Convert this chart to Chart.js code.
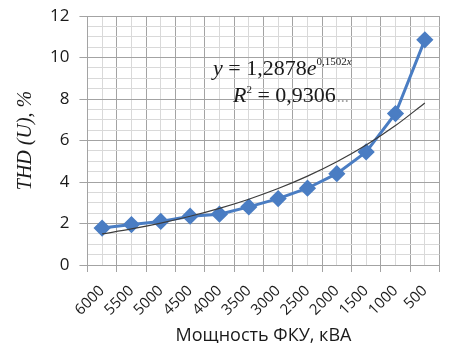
<!DOCTYPE html>
<html>
<head>
<meta charset="utf-8">
<script src="https://cdn.jsdelivr.net/npm/chart.js@4/dist/chart.umd.min.js"></script>
<style>
  html, body { margin: 0; padding: 0; background: #ffffff; }
  #wrap { width: 449px; height: 343px; }
</style>
</head>
<body>
<div id="wrap"><canvas id="c" width="449" height="343"></canvas></div>
<script>
// Compensator power steps, kVA
const categories = ['6000', '5500', '5000', '4500', '4000', '3500', '3000', '2500', '2000', '1500', '1000', '500'];
// Voltage THD, %
const thdValues = [1.78, 1.95, 2.1, 2.35, 2.45, 2.8, 3.2, 3.7, 4.4, 5.45, 7.3, 10.85];
// Labelled y ticks
const yTicks = [0, 2, 4, 6, 8, 10, 12];
// Exponential trend: y = A * e^(B*x), x = category number
const trendA = 1.2878;
const trendB = 0.1502;
const trendLabelA = '1,2878';
const trendLabelB = '0,1502';
const trendR2 = '0,9306';

const mainPoints = thdValues.map((v, i) => ({ x: i + 1, y: v }));
const trendPoints = categories.map((c, i) => ({ x: i + 1, y: trendA * Math.exp(trendB * (i + 1)) }));

const MAJOR = '#a3a3a3';
const MINOR = '#d9d9d9';
const BLUE = '#4a7dc3';
const SANS = '"Open Sans", "Noto Sans", sans-serif';
const SERIF = '"Liberation Serif", "DejaVu Serif", serif';

// Trend equation printed over the grid
const equationPlugin = {
  id: 'equation',
  afterDatasetsDraw(chart) {
    const ctx = chart.ctx;
    ctx.save();
    ctx.fillStyle = '#1a1a1a';
    ctx.textBaseline = 'alphabetic';
    const big = '22px ' + SERIF;
    const bigIt = 'italic 22px ' + SERIF;
    const sup = '11px ' + SERIF;
    const supIt = 'italic 11px ' + SERIF;
    const parts1 = [
      [bigIt, 'y', 0], [big, ' = ' + trendLabelA, 0], [bigIt, 'e', 0],
      [sup, trendLabelB, -10], [supIt, 'x', -10]
    ];
    const parts2 = [
      [bigIt, 'R', 0], [sup, '2', -9], [big, ' = ' + trendR2, 0]
    ];
    const draw = (parts, x, y) => {
      for (const [f, t, dy] of parts) {
        ctx.font = f;
        ctx.fillText(t, x, y + dy);
        x += ctx.measureText(t).width;
      }
      return x;
    };
    draw(parts1, 213, 75);
    const end = draw(parts2, 233, 102);
    ctx.font = '16px ' + SERIF;
    ctx.fillStyle = '#a0a0a0';
    ctx.fillText('...', end + 1, 102);
    ctx.restore();
  }
};

new Chart(document.getElementById('c'), {
  type: 'line',
  data: {
    datasets: [
      {
        data: trendPoints,
        borderColor: '#3d3d3d',
        borderWidth: 1.2,
        pointRadius: 0,
        cubicInterpolationMode: 'monotone',
        fill: false,
        order: 0
      },
      {
        data: mainPoints,
        borderColor: BLUE,
        backgroundColor: BLUE,
        borderWidth: 3,
        pointStyle: 'rectRot',
        pointRadius: 6.5,
        pointBackgroundColor: BLUE,
        pointBorderColor: BLUE,
        tension: 0,
        fill: false,
        order: 1
      }
    ]
  },
  options: {
    responsive: false,
    animation: false,
    layout: { padding: { top: 16, right: 4, left: 14, bottom: 0 } },
    plugins: {
      legend: { display: false },
      tooltip: { enabled: false }
    },
    scales: {
      x: {
        type: 'linear',
        min: 0.5,
        max: 12.5,
        afterFit: (s) => { s.paddingRight = 0; s.height = 78; },
        border: { color: MAJOR, width: 1 },
        grid: {
          color: (c) => (c.tick && c.tick.value % 1 !== 0) ? MAJOR : MINOR,
          tickColor: (c) => (c.tick && c.tick.value % 1 !== 0) ? MAJOR : 'rgba(0,0,0,0)',
          tickLength: 7,
          lineWidth: 1
        },
        ticks: {
          stepSize: 0.5,
          autoSkip: false,
          minRotation: 45,
          maxRotation: 45,
          padding: 10,
          color: '#1a1a1a',
          font: { family: SANS, size: 15 },
          callback: (v) => Number.isInteger(v) ? categories[v - 1] : ''
        },
        title: {
          display: true,
          text: 'Мощность ФКУ, кВА',
          color: '#1a1a1a',
          padding: { top: 0, bottom: -4 },
          font: { family: SANS, size: 18 }
        }
      },
      y: {
        min: 0,
        max: 12,
        afterFit: (s) => { s.paddingTop = 0; s.paddingBottom = 0; },
        border: { color: MAJOR, width: 1 },
        grid: {
          color: (c) => (c.tick && yTicks.includes(c.tick.value)) ? MAJOR : MINOR,
          tickColor: (c) => (c.tick && yTicks.includes(c.tick.value)) ? MAJOR : 'rgba(0,0,0,0)',
          tickLength: 8,
          lineWidth: 1
        },
        ticks: {
          stepSize: 0.5,
          autoSkip: false,
          padding: 10,
          color: '#1a1a1a',
          font: { family: SANS, size: 17 },
          callback: (v) => yTicks.includes(v) ? String(v) : ''
        },
        title: {
          display: true,
          text: 'THD (U), %',
          color: '#1a1a1a',
          padding: { top: 0, bottom: 2 },
          font: { family: SERIF, size: 20, style: 'italic' }
        }
      }
    }
  },
  plugins: [equationPlugin]
});
</script>
</body>
</html>
